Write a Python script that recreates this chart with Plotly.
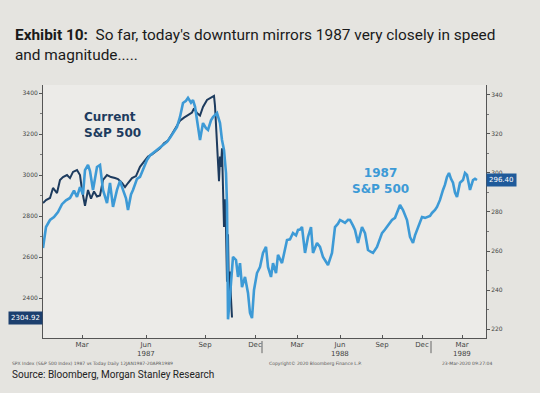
import plotly.graph_objects as go

# ---- data (x = trading-session position along the 1987 time axis) ----
s_1987 = [0, 3, 7, 11, 15, 19, 23, 27, 31, 34, 37, 40, 42, 45, 47, 50, 54, 57, 60, 64,
          67, 70, 74, 77, 80, 83, 85, 88, 90, 94, 97, 101, 104, 107, 110, 114, 117, 121, 124, 127,
          130, 134, 137, 140, 143, 145, 148, 150, 152, 154, 157, 160, 163, 165, 168, 170, 174, 177, 179, 181,
          183, 184, 185, 187, 190, 193, 195, 197, 199, 202, 205, 207, 209, 211, 214, 217, 220, 223, 225, 228,
          230, 233, 235, 239, 242, 244, 247, 250, 253, 255, 257, 259, 262, 265, 268, 270, 274, 277, 280, 283,
          285, 289, 292, 295, 297, 300, 302, 305, 307, 310, 312, 315, 319, 322, 325, 328, 330, 334, 337, 339,
          342, 344, 347, 349, 352, 354, 357, 360, 364, 367, 370, 372, 374, 377, 379, 382, 384, 387, 389, 392,
          394, 397, 400, 402, 404, 406, 408, 410, 412, 414, 417, 420, 422, 424, 426, 427, 430, 432, 434]
spx_1987 = [261.5, 272.3, 275.9, 277.4, 280.0, 284.0, 286.0, 287.2, 291.0, 287.7, 292.8, 289.0, 301.5, 304.1, 301.0, 291.3, 303.1, 304.1, 291.3, 284.6,
            294.9, 282.6, 291.3, 296.0, 291.3, 287.0, 281.0, 289.0, 291.3, 297.0, 298.0, 303.0, 306.7, 309.0, 310.3, 312.0, 313.3, 315.0, 315.9, 318.0,
            320.5, 323.6, 328.7, 335.9, 337.0, 338.5, 336.0, 337.4, 334.0, 327.2, 316.9, 325.6, 323.0, 322.1, 327.0, 328.7, 330.8, 325.6, 316.9, 311.8,
            300.0, 284.0, 225.0, 237.0, 257.0, 255.4, 246.7, 253.8, 241.5, 246.7, 238.5, 228.2, 225.6, 240.0, 248.7, 251.8, 259.0, 262.1, 251.8, 246.7,
            253.8, 248.7, 258.0, 253.8, 262.0, 265.6, 266.0, 269.2, 268.0, 270.8, 271.0, 272.3, 259.0, 267.2, 272.3, 259.0, 264.1, 262.1, 256.9, 254.0,
            252.8, 259.0, 272.3, 274.0, 275.9, 275.0, 274.4, 276.0, 275.9, 273.0, 270.8, 264.1, 272.3, 269.2, 260.5, 259.5, 259.0, 262.1, 266.0, 269.2,
            271.0, 272.3, 274.0, 275.9, 277.0, 279.5, 283.6, 281.0, 275.9, 267.2, 264.1, 268.0, 270.8, 275.0, 277.4, 277.0, 277.4, 278.0, 279.5, 281.0,
            282.6, 286.2, 291.3, 294.0, 298.0, 300.0, 297.0, 295.0, 290.0, 287.7, 295.0, 296.4, 300.0, 299.0, 294.0, 291.3, 296.4, 297.0, 296.4]

s_current = [0, 3, 7, 10, 14, 17, 20, 24, 27, 30, 34, 37, 39, 42, 45, 48, 51, 54, 57, 60,
             64, 68, 72, 75, 79, 82, 85, 89, 93, 97, 101, 105, 109, 113, 117, 121, 125, 129, 133, 137,
             141, 145, 149, 151, 154, 157, 160, 164, 168, 171, 172, 173, 174, 175, 176, 177, 178, 179, 180, 181,
             182, 183, 184, 185, 186, 187, 188, 189]
spx_current = [2863, 2878, 2888, 2937, 2912, 2976, 2990, 3000, 2985, 3015, 3024, 3000, 2927, 2850, 2927, 2885, 2920, 2895, 2900, 2976,
               3000, 2990, 2985, 2980, 2961, 2941, 2961, 2985, 2995, 3040, 3065, 3090, 3100, 3115, 3130, 3155, 3168, 3200, 3235, 3265,
               3280, 3292, 3305, 3325, 3302, 3290, 3332, 3366, 3376, 3386, 3337, 3225, 3128, 3050, 2970, 3090, 3040, 3130, 2972, 2746,
               2882, 2741, 2480, 2711, 2386, 2529, 2398, 2304.92]

x_tick_pos = [39, 103, 162, 212, 254, 297, 339, 379, 419]
x_tick_lab = ["Mar", "Jun", "Sep", "Dec", "Mar", "Jun", "Sep", "Dec", "Mar"]
year_pos = [103, 297, 419]
year_lab = ["1987", "1988", "1989"]
year_breaks = [219, 388]
left_ticks = [2400, 2600, 2800, 3000, 3200, 3400]
right_ticks = [220, 240, 260, 280, 300, 320, 340]

NAVY = "#1d3b5e"
LIGHT = "#3d9ad6"
PAPER = "#e5e4e0"

fig = go.Figure()
fig.add_trace(go.Scatter(x=s_1987, y=spx_1987, yaxis="y2", mode="lines",
                         line=dict(color=LIGHT, width=2.6), name="1987 S&P 500"))
fig.add_trace(go.Scatter(x=s_current, y=spx_current, yaxis="y", mode="lines",
                         line=dict(color=NAVY, width=2.0), name="Current S&P 500"))

axis_font = dict(family="DejaVu Sans", size=6, color="#444")
fig.update_layout(
    width=540, height=393,
    margin=dict(l=43, r=54, t=85, b=55),
    paper_bgcolor=PAPER, plot_bgcolor="#ecebe8",
    showlegend=False,
    xaxis=dict(range=[0, 443], tickvals=x_tick_pos, ticktext=x_tick_lab,
               showgrid=False, zeroline=False, showline=True, linecolor="#555", linewidth=1,
               ticks="inside", ticklen=3, tickcolor="#555",
               tickfont=dict(family="DejaVu Sans", size=7, color="#444")),
    yaxis=dict(range=[2205, 3439], tickvals=left_ticks, showgrid=False, zeroline=False,
               showline=True, linecolor="#555", linewidth=1, ticks="outside", ticklen=3,
               tickcolor="#555", tickfont=axis_font,
               minor=dict(dtick=100, ticklen=2, tickcolor="#777", ticks="outside")),
    yaxis2=dict(range=[215.4, 345.1], tickvals=right_ticks, overlaying="y", side="right",
                showgrid=False, zeroline=False, showline=True, linecolor="#555", linewidth=1,
                ticks="outside", ticklen=3, tickcolor="#555", tickfont=axis_font,
                minor=dict(dtick=10, ticklen=2, tickcolor="#777", ticks="outside")),
)

for xp, lab in zip(year_pos, year_lab):
    fig.add_annotation(x=xp, xref="x", y=-0.063, yref="paper", yanchor="middle", text=lab,
                       showarrow=False, font=dict(family="DejaVu Sans", size=7, color="#444"))
for xb in year_breaks:
    fig.add_shape(type="line", x0=xb, x1=xb, xref="x", y0=-0.012, y1=-0.06, yref="paper",
                  line=dict(color="#666", width=1))

# series labels
fig.add_annotation(x=0.088, y=0.908, xref="paper", yref="paper", xanchor="left", yanchor="top",
                   text="<b>Current<br>S&P 500</b>", showarrow=False, align="left",
                   font=dict(family="DejaVu Sans", size=12, color=NAVY))
fig.add_annotation(x=0.761, y=0.688, xref="paper", yref="paper", xanchor="center", yanchor="top",
                   text="<b>1987<br>S&P 500</b>", showarrow=False, align="center",
                   font=dict(family="DejaVu Sans", size=12, color=LIGHT))

# last-value boxes
fig.add_annotation(x=0, xref="paper", xanchor="right", y=spx_current[-1], yref="y",
                   text=f"{spx_current[-1]:.2f}", showarrow=False, bgcolor="#1c3f6e",
                   font=dict(family="DejaVu Sans", size=7, color="white"), borderpad=2)
fig.add_annotation(x=1, xref="paper", xanchor="left", y=spx_1987[-1], yref="y2",
                   text=f"{spx_1987[-1]:.2f}", showarrow=False, bgcolor="#1f5a9a",
                   font=dict(family="DejaVu Sans", size=7, color="white"), borderpad=2)

# title
fig.add_annotation(x=-0.0677, y=1.241, xref="paper", yref="paper", xanchor="left", yanchor="top",
                   text="<b>Exhibit 10:</b>  So far, today's downturn mirrors 1987 very closely in speed<br>and magnitude.....",
                   showarrow=False, align="left",
                   font=dict(family="Roboto", size=15.4, color="#1a1a1a"))

# footer
fine = dict(family="DejaVu Sans", size=4.5, color="#555")
fig.add_annotation(x=-0.0745, y=-0.099, xref="paper", yref="paper", xanchor="left", yanchor="middle",
                   text="SPX Index (S&P 500 Index) 1987 vs Today Daily 12JAN1987-20APR1989",
                   showarrow=False, font=fine)
fig.add_annotation(x=0.5056, y=-0.099, xref="paper", yref="paper", xanchor="left", yanchor="middle",
                   text="Copyright\u00a9 2020 Bloomberg Finance L.P.", showarrow=False, font=fine)
fig.add_annotation(x=0.896, y=-0.099, xref="paper", yref="paper", xanchor="left", yanchor="middle",
                   text="23-Mar-2020 09:27:04", showarrow=False, font=fine)
fig.add_annotation(x=-0.0745, y=-0.146, xref="paper", yref="paper", xanchor="left", yanchor="middle",
                   text="Source: Bloomberg, Morgan Stanley Research", showarrow=False,
                   font=dict(family="Roboto", size=10, color="#222"))

fig.write_html("out.html", config={"displayModeBar": False},
               post_script="document.body.style.margin='0px';document.body.style.background='%s';" % PAPER)
